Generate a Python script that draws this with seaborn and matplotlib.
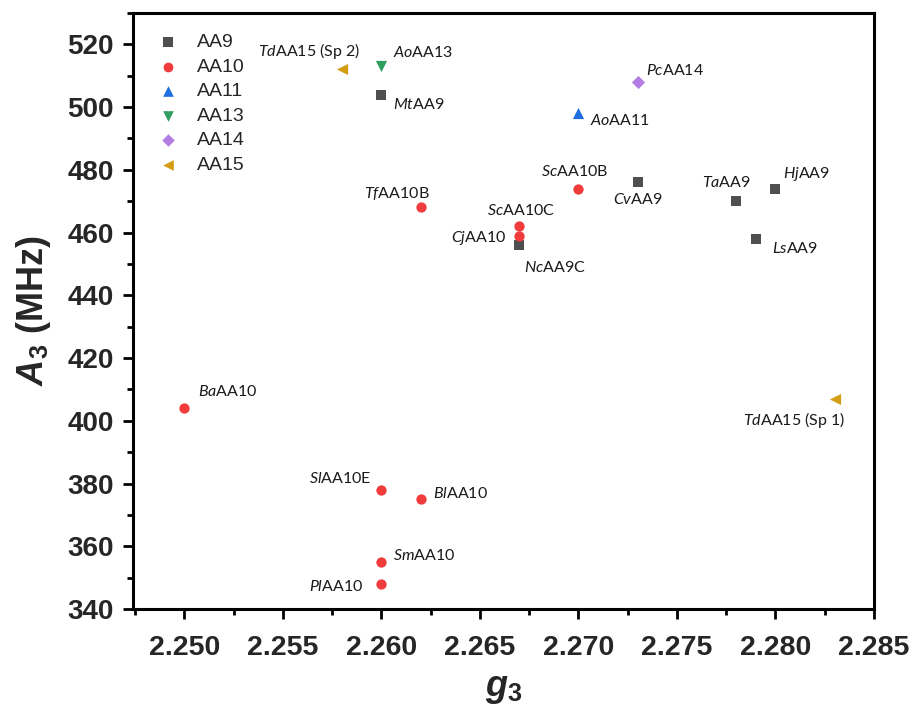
import matplotlib
matplotlib.use("Agg")
import matplotlib.pyplot as plt
import pandas as pd
import seaborn as sns
from matplotlib.ticker import MultipleLocator, AutoMinorLocator

# Spin-Hamiltonian parameters of LPMO copper sites
species = ["Mt", "Nc", "Cv", "Ta", "Hj", "Ls",
           "Tf", "Sc", "Sc", "Cj", "Ba", "Sl", "Bl", "Sm", "Pl",
           "Ao", "Ao", "Pc", "Td", "Td"]
enzymes = ["AA9", "AA9C", "AA9", "AA9", "AA9", "AA9",
           "AA10B", "AA10B", "AA10C", "AA10", "AA10", "AA10E", "AA10", "AA10", "AA10",
           "AA11", "AA13", "AA14", "AA15 (Sp 2)", "AA15 (Sp 1)"]
families = ["AA9", "AA9", "AA9", "AA9", "AA9", "AA9",
            "AA10", "AA10", "AA10", "AA10", "AA10", "AA10", "AA10", "AA10", "AA10",
            "AA11", "AA13", "AA14", "AA15", "AA15"]
g3 = [2.260, 2.267, 2.273, 2.278, 2.280, 2.279,
      2.262, 2.270, 2.267, 2.267, 2.250, 2.260, 2.262, 2.260, 2.260,
      2.270, 2.260, 2.273, 2.258, 2.283]
a3 = [504, 456, 476, 470, 474, 458,
      468, 474, 462, 459, 404, 378, 375, 355, 348,
      498, 513, 508, 512, 407]
x_ticks = [2.250, 2.255, 2.260, 2.265, 2.270, 2.275, 2.280, 2.285]

family_order = ["AA9", "AA10", "AA11", "AA13", "AA14", "AA15"]
palette = {"AA9": "#4f4f4f", "AA10": "#f03c3c", "AA11": "#1f6fe0",
           "AA13": "#2f9e5e", "AA14": "#b47de4", "AA15": "#d49e14"}
markers = {"AA9": "s", "AA10": "o", "AA11": "^",
           "AA13": "v", "AA14": "D", "AA15": "<"}
sizes = {"AA9": 50, "AA10": 55, "AA11": 65, "AA13": 65, "AA14": 45, "AA15": 65}

# label placement: (dx, dy) in pixels from the point, horizontal alignment
label_layout = [(12, -10, "left"), (5, -22, "left"), (0, -17, "center"),
                (-10, 19, "center"), (8, 15, "left"), (16, -10, "left"),
                (-24, 14, "center"), (-4, 17, "center"), (2, 16, "center"),
                (-13, -2, "right"), (14, 17, "left"), (-10, 11, "right"),
                (12, 6, "left"), (12, 6, "left"), (-18, -3, "right"),
                (12, -7, "left"), (12, 14, "left"), (8, 12, "left"),
                (-33, 18, "center"), (11, -21, "right")]

df = pd.DataFrame({"g3": g3, "A3": a3, "family": families})

sns.set_theme(style="white")
plt.rcParams["font.family"] = ["Liberation Sans", "DejaVu Sans"]
plt.rcParams["mathtext.fontset"] = "custom"
plt.rcParams["mathtext.rm"] = "Lato"
plt.rcParams["mathtext.it"] = "Lato:italic"
plt.rcParams["mathtext.bf"] = "Liberation Sans:bold"
plt.rcParams["mathtext.bfit"] = "Liberation Sans:bold:italic"

fig = plt.figure(figsize=(9.16, 7.08), dpi=100)
ax = fig.add_axes([133 / 916, 1 - 609 / 708, (874 - 133) / 916, (609 - 13) / 708])

for fam in family_order:
    sub = df[df["family"] == fam]
    sns.scatterplot(data=sub, x="g3", y="A3", color=palette[fam], marker=markers[fam],
                    s=sizes[fam], linewidth=0, ax=ax, label=fam, zorder=3)

for sp, name, x, y, (dx, dy, ha) in zip(species, enzymes, g3, a3, label_layout):
    ax.annotate(rf"$\mathit{{{sp}}}$" + name, (x, y), xytext=(dx, dy),
                textcoords="offset pixels", ha=ha, va="center",
                fontsize=11.5, family="Lato", color="#1a1a1a")

ax.set_xlim(2.2474, 2.285)
ax.set_ylim(340, 530)
ax.set_xticks(x_ticks)
ax.set_xticklabels([f"{v:.3f}" for v in x_ticks])
ax.xaxis.set_minor_locator(AutoMinorLocator(2))
ax.yaxis.set_major_locator(MultipleLocator(20))
ax.yaxis.set_minor_locator(AutoMinorLocator(2))

for side in ["left", "right", "top", "bottom"]:
    ax.spines[side].set_visible(True)
    ax.spines[side].set_color("black")
    ax.spines[side].set_linewidth(2.2)

ax.tick_params(which="major", direction="out", length=7, width=2, color="black",
               left=True, bottom=True, top=False, right=False)
ax.tick_params(which="minor", direction="out", length=4, width=2, color="black",
               left=True, bottom=True, top=False, right=False)
ax.tick_params(axis="y", which="major", pad=7, labelsize=20)
ax.tick_params(axis="x", which="major", pad=12, labelsize=20.5)
for lab in ax.get_yticklabels() + ax.get_xticklabels():
    lab.set_fontweight("bold")

ax.set_ylabel(r"$\mathbfit{A}_{\mathbf{3}}$ (MHz)", fontsize=26, fontweight="bold", labelpad=10)
ax.set_xlabel(r"$\mathbfit{g}_{\mathbf{3}}$", fontsize=26, fontweight="bold", labelpad=7)

ax.legend(loc="upper left", bbox_to_anchor=(0.006, 1.0), frameon=False, fontsize=14,
          handletextpad=1.0, labelspacing=0.36, borderaxespad=0.65, handlelength=1.0,
          markerscale=0.95)

fig.savefig("out.png", dpi=100)
